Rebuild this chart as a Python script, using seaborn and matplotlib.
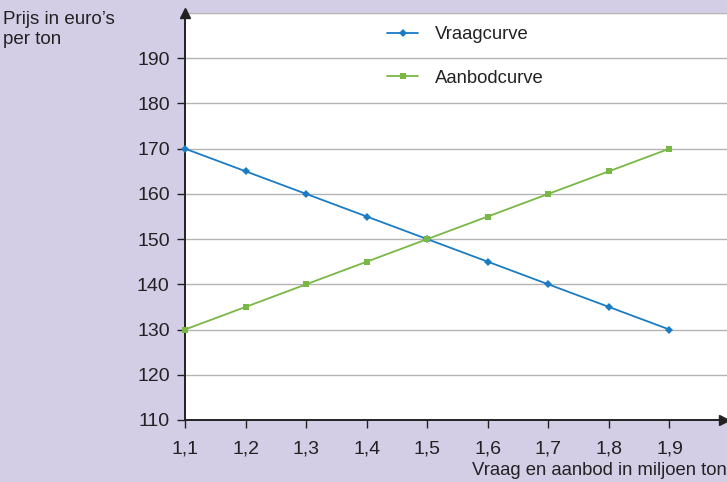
import matplotlib
matplotlib.use("Agg")
import matplotlib.pyplot as plt
import seaborn as sns

# data
volume = [1.1, 1.2, 1.3, 1.4, 1.5, 1.6, 1.7, 1.8, 1.9]
vraag = [170, 165, 160, 155, 150, 145, 140, 135, 130]
aanbod = [130, 135, 140, 145, 150, 155, 160, 165, 170]
y_ticks = [110, 120, 130, 140, 150, 160, 170, 180, 190]
x_labels = ["1,1", "1,2", "1,3", "1,4", "1,5", "1,6", "1,7", "1,8", "1,9"]

sns.set_style("white")
plt.rcParams["font.family"] = ["Liberation Sans", "DejaVu Sans"]
txt = "#222222"
lavender = "#d3cde6"
blue = "#1b7cc4"
green = "#79b844"
fs = 14

fig = plt.figure(figsize=(7.27, 4.82), dpi=100, facecolor=lavender)
ax = fig.add_axes([185 / 727, 62 / 482, 1 - 185 / 727, 407 / 482])
ax.set_facecolor("white")

# horizontal grid
for y in y_ticks[1:] + [200]:
    ax.axhline(y, color="#b4b4b4", lw=1, zorder=1)

sns.lineplot(x=volume, y=vraag, ax=ax, color=blue, lw=1.3, marker="D",
             markersize=4.5, markeredgewidth=0, label="Vraagcurve",
             clip_on=False, zorder=3)
sns.lineplot(x=volume, y=aanbod, ax=ax, color=green, lw=1.3, marker="s",
             markersize=4.5, markeredgewidth=0, label="Aanbodcurve",
             clip_on=False, zorder=3)

ax.set_xlim(1.1, 1.995)
ax.set_ylim(110, 200)
ax.set_xticks(volume)
ax.set_xticklabels(x_labels)
ax.set_yticks(y_ticks)
ax.tick_params(axis="both", direction="out", length=6, width=1, colors="#222222",
               labelsize=fs, labelcolor=txt, bottom=True, left=True)
ax.tick_params(axis="x", pad=9)
ax.tick_params(axis="y", pad=5)

for s in ["top", "right"]:
    ax.spines[s].set_visible(False)
for s in ["left", "bottom"]:
    ax.spines[s].set_color("#222222")
    ax.spines[s].set_linewidth(1.4)
    ax.spines[s].set_zorder(2)

# axis arrows
ax.plot(0, 1.0, marker="^", color="#222222", markersize=7, transform=ax.transAxes,
        clip_on=False, zorder=4)
ax.plot(0.995, 0, marker=">", color="#222222", markersize=7, transform=ax.transAxes,
        clip_on=False, zorder=4)

leg = ax.legend(loc="upper left", bbox_to_anchor=(387 / 727, 1 - 26 / 482),
                bbox_transform=fig.transFigure, frameon=False, fontsize=13.3,
                handlelength=1.7, handletextpad=0.9, labelspacing=1.45,
                borderpad=0, borderaxespad=0)
for t in leg.get_texts():
    t.set_color(txt)

fig.text(3 / 727, 1 - 11 / 482, "Prijs in euro’s\nper ton", ha="left", va="top",
         fontsize=13.5, color=txt, linespacing=1.25)
fig.text(1.0, 7 / 482, "Vraag en aanbod in miljoen ton", ha="right",
         va="baseline", fontsize=13.3, color=txt)

fig.savefig("out.png", dpi=100, facecolor=lavender)
